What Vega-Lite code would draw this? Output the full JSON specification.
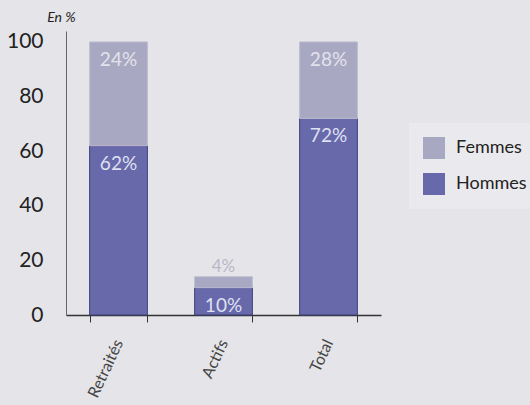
{
  "$schema": "https://vega.github.io/schema/vega-lite/v6.json",
  "width": 315,
  "height": 284,
  "autosize": {"type": "none"},
  "padding": {"left": 66, "top": 31, "right": 149, "bottom": 90},
  "background": "#e5e4e8",
  "config": {
    "font": "Lato",
    "view": {"stroke": null}
  },
  "data": {
    "values": [
      {"categorie": "Retraités", "sexe": "Hommes", "hauteur": 62, "etiquette": "62%"},
      {"categorie": "Retraités", "sexe": "Femmes", "hauteur": 38, "etiquette": "24%"},
      {"categorie": "Actifs", "sexe": "Hommes", "hauteur": 10, "etiquette": "10%"},
      {"categorie": "Actifs", "sexe": "Femmes", "hauteur": 4, "etiquette": "4%"},
      {"categorie": "Total", "sexe": "Hommes", "hauteur": 72, "etiquette": "72%"},
      {"categorie": "Total", "sexe": "Femmes", "hauteur": 28, "etiquette": "28%"}
    ]
  },
  "encoding": {
    "x": {
      "field": "categorie",
      "type": "nominal",
      "sort": ["Retraités", "Actifs", "Total"],
      "scale": {"paddingInner": 0.45, "paddingOuter": 0.225},
      "axis": {
        "title": null,
        "tickBand": "extent",
        "tickSize": 7,
        "tickColor": "#333",
        "domainColor": "#333",
        "domainWidth": 1.5,
        "labelAngle": -65,
        "labelAlign": "right",
        "labelBaseline": "middle",
        "labelPadding": 18,
        "labelFontSize": 16,
        "labelColor": "#444"
      }
    }
  },
  "layer": [
    {
      "mark": {"type": "bar", "strokeWidth": 1},
      "encoding": {
        "y": {
          "field": "hauteur",
          "type": "quantitative",
          "stack": "zero",
          "scale": {"domain": [0, 104], "nice": false},
          "axis": {
            "values": [0, 20, 40, 60, 80, 100],
            "grid": false,
            "ticks": false,
            "labelFontSize": 21,
            "labelColor": "#222",
            "labelPadding": 23,
            "domainColor": "#666",
            "domainWidth": 1,
            "title": "En %",
            "titleAngle": 0,
            "titleAlign": "center",
            "titleBaseline": "middle",
            "titleX": -5,
            "titleY": -14,
            "titleFontSize": 14,
            "titleFontStyle": "italic",
            "titleFontWeight": "normal",
            "titleColor": "#222"
          }
        },
        "color": {
          "field": "sexe",
          "type": "nominal",
          "scale": {"domain": ["Femmes", "Hommes"], "range": ["#a9a8c2", "#6769ab"]},
          "legend": {
            "title": null,
            "orient": "none",
            "legendX": 343,
            "legendY": 92,
            "padding": 14,
            "fillColor": "#eae9ed",
            "symbolType": "square",
            "symbolSize": 484,
            "symbolStrokeWidth": 0,
            "symbolOpacity": 1,
            "labelFontSize": 18,
            "labelColor": "#222",
            "labelOffset": 11,
            "rowPadding": 14
          }
        },
        "stroke": {
          "field": "sexe",
          "type": "nominal",
          "scale": {"domain": ["Femmes", "Hommes"], "range": ["#bdbccf", "#3e4079"]},
          "legend": null
        },
        "order": {"field": "sexe", "sort": "descending"}
      }
    },
    {
      "transform": [
        {"stack": "hauteur", "groupby": ["categorie"], "sort": [{"field": "sexe", "order": "descending"}], "as": ["bas", "haut"]},
        {"filter": "!(datum.categorie === 'Actifs' && datum.sexe === 'Femmes')"}
      ],
      "mark": {"type": "text", "baseline": "middle", "dy": 18, "fontSize": 19},
      "encoding": {
        "y": {"field": "haut", "type": "quantitative"},
        "text": {"field": "etiquette"},
        "color": {
          "condition": {"test": "datum.sexe === 'Hommes'", "value": "#dfe0f2"},
          "value": "#e3e2ec"
        }
      }
    },
    {
      "transform": [
        {"stack": "hauteur", "groupby": ["categorie"], "sort": [{"field": "sexe", "order": "descending"}], "as": ["bas", "haut"]},
        {"filter": "datum.categorie === 'Actifs' && datum.sexe === 'Femmes'"}
      ],
      "mark": {"type": "text", "baseline": "middle", "dy": -10, "fontSize": 17, "color": "#b9b8c7"},
      "encoding": {
        "y": {"field": "haut", "type": "quantitative"},
        "text": {"field": "etiquette"}
      }
    }
  ]
}
